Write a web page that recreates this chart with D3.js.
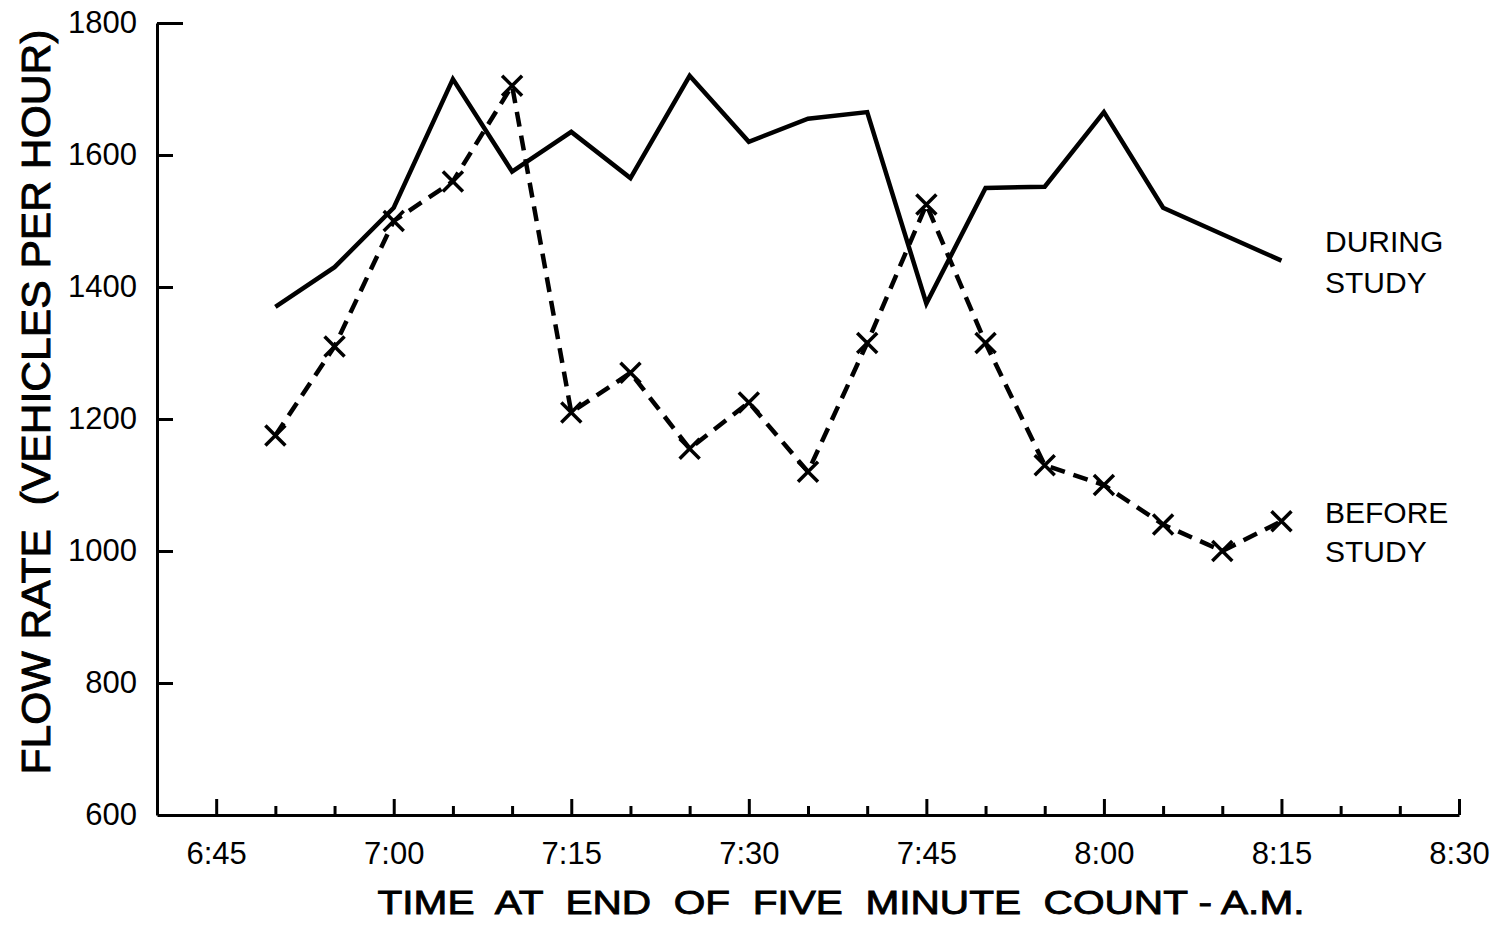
<!DOCTYPE html>
<html>
<head>
<meta charset="utf-8">
<script src="https://cdn.jsdelivr.net/npm/d3@7"></script>
<style>
  body { margin: 0; background: #fff; }
  svg { display: block; }
  .axis path, .axis line { stroke: #000; stroke-width: 3px; }
  .axis text { font-family: "Liberation Sans", Arial, sans-serif; font-size: 31px; fill: #000; }
  .lbl { font-family: "Liberation Sans", Arial, sans-serif; fill: #000; }
  .title { stroke: #000; stroke-width: 0.9px; white-space: pre; }
</style>
</head>
<body>
<div id="chart"></div>
<script>
// flow rate before / during study
var times = ["6:50","6:55","7:00","7:05","7:10","7:15","7:20","7:25","7:30",
             "7:35","7:40","7:45","7:50","7:55","8:00","8:05","8:10","8:15"];
var during = [1370,1430,1520,1715,1575,1635,1565,1720,1620,
              1655,1665,1375,1550,1552,1665,1520,1480,1440];
var before = [1175,1310,1500,1560,1705,1210,1270,1155,1225,
              1120,1315,1525,1315,1130,1100,1040,1000,1045];
var yTicks = [600,800,1000,1200,1400,1600,1800];
var xLabels = ["6:45","7:00","7:15","7:30","7:45","8:00","8:15","8:30"];
var xDomain = ["6:40","8:30"];

var width = 1499, height = 925;
var parse = d3.timeParse("%H:%M");

var svg = d3.select("#chart")
  .append("svg")
  .attr("width", width)
  .attr("height", height);

var x = d3.scaleTime()
  .domain(xDomain.map(parse))
  .range([157, 1459]);

var y = d3.scaleLinear()
  .domain([600, 1800])
  .range([815, 23]);

var fmt = d3.timeFormat("%-H:%M");
var labelSet = new Set(xLabels);

var xAxis = d3.axisBottom(x)
  .ticks(d3.timeMinute.every(5))
  .tickSizeInner(-8)
  .tickSizeOuter(0)
  .tickPadding(27)
  .tickFormat(function(d) { return labelSet.has(fmt(d)) ? fmt(d) : ""; });

var gx = svg.append("g")
  .attr("class", "x axis")
  .attr("transform", "translate(0," + y(600) + ")")
  .call(xAxis);

// longer marks every 15 minutes
gx.selectAll(".tick line")
  .attr("y2", function(d) { return labelSet.has(fmt(d)) ? -16 : -9; })
  .attr("stroke-width", 2.5);

var yAxis = d3.axisLeft(y)
  .tickValues(yTicks)
  .tickSizeInner(-16)
  .tickSizeOuter(0)
  .tickPadding(20)
  .tickFormat(d3.format("d"));

var gy = svg.append("g")
  .attr("class", "y axis")
  .attr("transform", "translate(" + x(parse(xDomain[0])) + ",0)")
  .call(yAxis);

gy.selectAll(".tick line")
  .attr("x2", function(d) { return d === 1800 ? 26 : 16; })
  .attr("stroke-width", 2.5);
gy.selectAll(".tick").filter(function(d) { return d === 600; }).select("line").remove();

// series
var line = d3.line()
  .x(function(d) { return x(parse(d[0])); })
  .y(function(d) { return y(d[1]); });

var duringPts = times.map(function(t, i) { return [t, during[i]]; });
var beforePts = times.map(function(t, i) { return [t, before[i]]; });

svg.append("path")
  .datum(duringPts)
  .attr("d", line)
  .attr("fill", "none")
  .attr("stroke", "#000")
  .attr("stroke-width", 4.5)
  .attr("stroke-linejoin", "miter");

svg.append("path")
  .datum(beforePts)
  .attr("d", line)
  .attr("fill", "none")
  .attr("stroke", "#000")
  .attr("stroke-width", 4.5)
  .attr("stroke-dasharray", "15,9");

var s = 10;
svg.selectAll(".mark")
  .data(beforePts)
  .enter()
  .append("path")
  .attr("class", "mark")
  .attr("transform", function(d) { return "translate(" + x(parse(d[0])) + "," + y(d[1]) + ")"; })
  .attr("d", "M" + (-s) + "," + (-s) + "L" + s + "," + s + "M" + s + "," + (-s) + "L" + (-s) + "," + s)
  .attr("stroke", "#000")
  .attr("stroke-width", 3.5)
  .attr("fill", "none");

// series labels
var lab = svg.append("g").attr("class", "lbl").style("font-size", "30px");
lab.append("text").attr("x", 1325).attr("y", 252).text("DURING");
lab.append("text").attr("x", 1325).attr("y", 293).text("STUDY");
lab.append("text").attr("x", 1325).attr("y", 523).text("BEFORE");
lab.append("text").attr("x", 1325).attr("y", 562).text("STUDY");

// axis titles
svg.append("text")
  .attr("class", "lbl title")
  .attr("transform", "translate(50,402) rotate(-90)")
  .attr("text-anchor", "middle")
  .attr("textLength", 745)
  .attr("lengthAdjust", "spacingAndGlyphs")
  .style("font-size", "40px")
  .text("FLOW RATE  (VEHICLES PER HOUR)");

svg.append("text")
  .attr("class", "lbl title")
  .attr("x", 841)
  .attr("y", 914)
  .attr("text-anchor", "middle")
  .attr("textLength", 927)
  .attr("lengthAdjust", "spacingAndGlyphs")
  .style("font-size", "34px")
  .text("TIME  AT  END  OF  FIVE  MINUTE  COUNT - A.M.");
</script>
</body>
</html>
